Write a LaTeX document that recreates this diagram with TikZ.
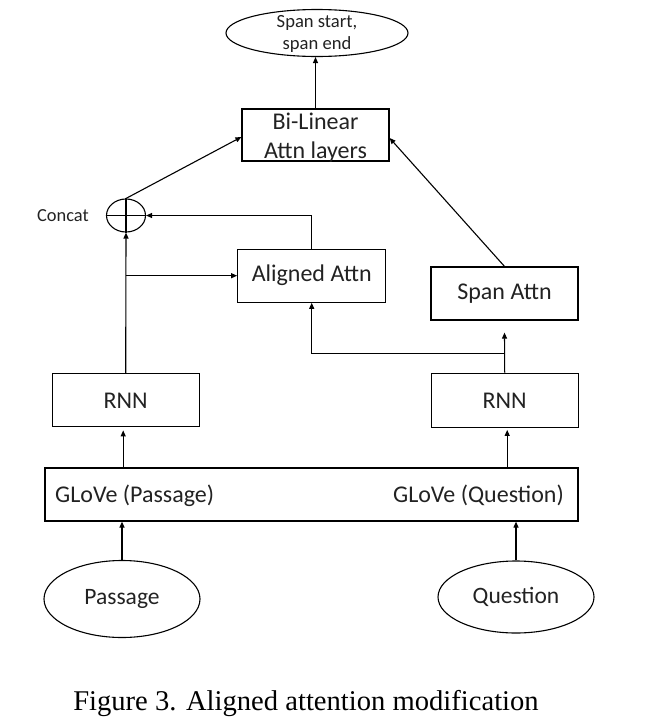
\documentclass[tikz,border=0pt]{standalone}
\usepackage{fontspec}
\setmainfont{Carlito}
\newfontfamily\capfont{Liberation Serif}
\usetikzlibrary{shapes.geometric,arrows.meta,calc}
\definecolor{txt}{HTML}{222222}
\tikzset{
  boxnode/.style={draw, line width=1.2pt, rectangle, inner sep=0pt, text=txt, align=center,
    font=\fontsize{24}{28.8}\selectfont},
  ovalnode/.style={draw, line width=1.1pt, ellipse, inner sep=0pt, text=txt,
    font=\fontsize{23.5}{28}\selectfont},
  plain/.style={inner sep=0pt, text=txt},
  arr/.style={line width=1.1pt, -{Triangle[length=6pt,width=5pt]}},
  ln/.style={line width=1.1pt}
}
\begin{document}
\begin{tikzpicture}[x=1pt,y=-1pt]
\useasboundingbox (0,0) rectangle (646,723);
% output ellipse
\node[ovalnode, minimum width=182pt, minimum height=47pt] (outE) at (317,33) {};
\node[plain, align=center, font=\fontsize{18.6}{22.5}\selectfont] (outT) at (317,34) {Span start,\\span end};
% bilinear
\node[boxnode, minimum width=147pt, minimum height=52pt] (bil) at (315.5,135) {};
\node[plain, align=center, font=\fontsize{24}{28.8}\selectfont] (bilT) at (315.5,137.5) {Bi-Linear\\Attn layers};
% concat
\node[draw, line width=1.1pt, ellipse, inner sep=0pt, minimum width=39pt, minimum height=33pt] (cat) at (126,215.5) {};
\draw[ln] (cat.north) -- (cat.south) (cat.west) -- (cat.east);
\node[plain, anchor=base east, font=\fontsize{18.4}{22}\selectfont] (catL) at (89,221.5) {Concat};
% attention
\node[boxnode, minimum width=148pt, minimum height=53pt] (ali) at (311.7,275.7) {Aligned Attn};
\node[boxnode, minimum width=147pt, minimum height=53pt] (span) at (504.5,293.5) {Span Attn};
% rnns
\node[boxnode, minimum width=147pt, minimum height=53pt] (rnn1) at (125.7,400.3) {RNN};
\node[boxnode, minimum width=147pt, minimum height=54pt] (rnn2) at (504.7,400.3) {RNN};
% glove
\node[draw, line width=1.2pt, rectangle, inner sep=0pt, minimum width=533pt, minimum height=53pt] (glove) at (311.5,494.5) {};
\node[plain, anchor=base west, font=\fontsize{24}{28}\selectfont] (gloP) at (55,502.5) {GLoVe (Passage)};
\node[plain, anchor=base east, font=\fontsize{24}{28}\selectfont] (gloQ) at (564,502.5) {GLoVe (Question)};
% inputs
\node[ovalnode, minimum width=156pt, minimum height=77pt] (pas) at (122,599) {Passage};
\node[ovalnode, minimum width=156pt, minimum height=72pt] (que) at (516,597) {Question};
% caption
\node[inner sep=0pt, anchor=base, font=\capfont\fontsize{28.6}{34}\selectfont] (cap) at (306,710) {Figure 3. Aligned attention modification};
% connectors
\draw[arr] (bil.north) -- (bil.north |- outE.south);
\draw[arr] (cat.north) -- ([yshift=-2pt]bil.west);
\draw[arr] (span.north) -- ([yshift=-3pt]bil.east);
\draw[arr] (ali.north) |- (cat.east);
\draw[arr] (rnn1.north) -- (cat.south);
\coordinate (br1) at (rnn1.north |- ali.west);
\draw[arr] (br1) -- (ali.west);
\draw[arr] (rnn2.north) -- ([yshift=-12pt]span.south);
\coordinate (br2) at ([yshift=19pt]rnn2.north);
\draw[arr] (br2) -| (ali.south);
\draw[arr, shorten >=3pt] ([xshift=-2.5pt]rnn1.south |- glove.north) -- ([xshift=-2.5pt]rnn1.south);
\draw[arr, shorten >=2pt] ([xshift=2.5pt]rnn2.south |- glove.north) -- ([xshift=2.5pt]rnn2.south);
\draw[arr] (pas.north) -- (pas.north |- glove.south);
\draw[arr] (que.north) -- (que.north |- glove.south);
\end{tikzpicture}
\end{document}
